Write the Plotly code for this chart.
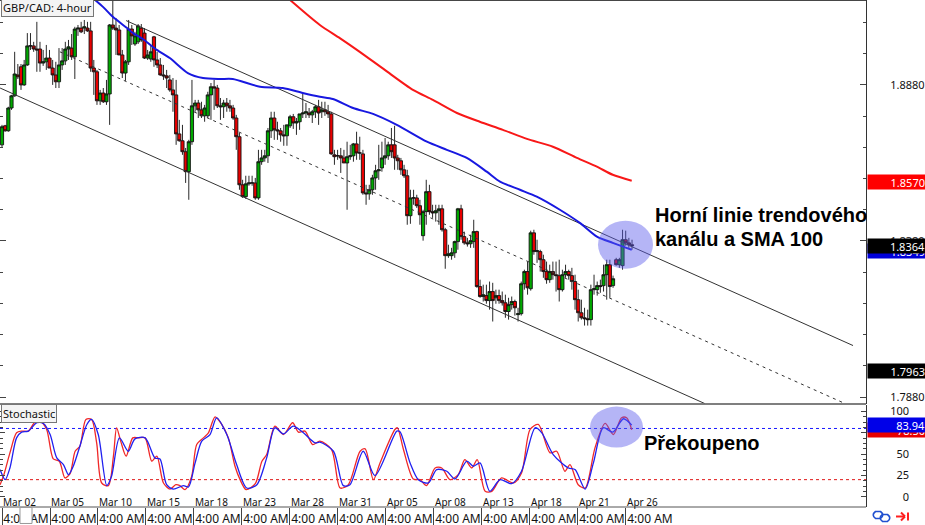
import plotly.graph_objects as go

open_vals = [
1.8688,1.8749,1.8733,1.8806,1.8845,1.8912,1.8938,1.8880,1.8944,1.9005,
1.9005,1.8995,1.8995,1.8950,1.8954,1.8966,1.8934,1.8912,1.8890,1.8944,
1.8957,1.8995,1.8998,1.8970,1.9059,1.9062,1.9062,1.9062,1.9053,1.8934,
1.8922,1.8829,1.8854,1.8826,1.8851,1.9072,1.9062,1.9056,1.8976,1.8918,
1.8954,1.9059,1.9011,1.9018,1.9062,1.9046,1.8966,1.8963,1.9034,1.8960,
1.8944,1.8912,1.8909,1.8896,1.8864,1.8848,1.8723,1.8701,1.8666,1.8602,
1.8698,1.8813,1.8822,1.8800,1.8781,1.8781,1.8848,1.8874,1.8870,1.8813,
1.8810,1.8822,1.8813,1.8806,1.8774,1.8714,1.8560,1.8522,1.8563,1.8566,
1.8566,1.8518,1.8634,1.8646,1.8653,1.8733,1.8774,1.8736,1.8733,1.8720,
1.8717,1.8749,1.8778,1.8758,1.8762,1.8787,1.8790,1.8790,1.8784,1.8794,
1.8810,1.8794,1.8800,1.8794,1.8787,1.8656,1.8653,1.8653,1.8646,1.8630,
1.8650,1.8653,1.8691,1.8662,1.8659,1.8534,1.8531,1.8544,1.8582,1.8605,
1.8614,1.8646,1.8653,1.8688,1.8688,1.8646,1.8637,1.8608,1.8589,1.8461,
1.8518,1.8518,1.8493,1.8397,1.8474,1.8538,1.8474,1.8470,1.8477,1.8483,
1.8416,1.8333,1.8333,1.8342,1.8378,1.8483,1.8394,1.8374,1.8371,1.8378,
1.8410,1.8234,1.8202,1.8205,1.8189,1.8218,1.8198,1.8205,1.8189,1.8182,
1.8154,1.8176,1.8186,1.8144,1.8147,1.8243,1.8282,1.8227,1.8406,1.8346,
1.8346,1.8320,1.8282,1.8256,1.8282,1.8272,1.8269,1.8224,1.8272,1.8282,
1.8269,1.8250,1.8192,1.8150,1.8134,1.8131,1.8128,1.8224,1.8224,1.8237,
1.8237,1.8272,1.8304,1.8237,1.8320,1.8304,1.8301,1.8384,1.8374,1.8368]
high_vals = [
1.8752,1.8752,1.8810,1.8848,1.8986,1.8947,1.8947,1.8960,1.9046,1.9046,
1.9018,1.9082,1.9018,1.8992,1.9008,1.8992,1.8960,1.8954,1.8998,1.8998,
1.9018,1.9024,1.9043,1.9066,1.9072,1.9082,1.9088,1.9082,1.9082,1.8960,
1.8928,1.8864,1.8870,1.8896,1.9075,1.9152,1.9094,1.9072,1.8992,1.8960,
1.9088,1.9072,1.9050,1.9075,1.9075,1.9062,1.8992,1.9008,1.9037,1.8986,
1.8966,1.8944,1.8928,1.8912,1.8902,1.8896,1.8768,1.8752,1.8678,1.8704,
1.8896,1.8832,1.8832,1.8826,1.8816,1.8858,1.8886,1.8896,1.8880,1.8838,
1.8832,1.8838,1.8832,1.8816,1.8784,1.8726,1.8576,1.8589,1.8589,1.8589,
1.8582,1.8672,1.8672,1.8672,1.8742,1.8794,1.8794,1.8762,1.8742,1.8752,
1.8752,1.8784,1.8787,1.8774,1.8787,1.8854,1.8822,1.8806,1.8800,1.8816,
1.8832,1.8826,1.8826,1.8816,1.8794,1.8672,1.8672,1.8678,1.8672,1.8698,
1.8688,1.8694,1.8730,1.8714,1.8672,1.8560,1.8560,1.8592,1.8624,1.8688,
1.8698,1.8710,1.8698,1.8742,1.8749,1.8656,1.8646,1.8624,1.8608,1.8544,
1.8544,1.8528,1.8512,1.8480,1.8576,1.8560,1.8496,1.8496,1.8496,1.8496,
1.8422,1.8368,1.8358,1.8381,1.8486,1.8496,1.8410,1.8390,1.8400,1.8448,
1.8413,1.8256,1.8240,1.8240,1.8250,1.8246,1.8224,1.8224,1.8218,1.8208,
1.8198,1.8202,1.8192,1.8166,1.8250,1.8288,1.8314,1.8413,1.8416,1.8384,
1.8352,1.8336,1.8314,1.8304,1.8314,1.8314,1.8320,1.8288,1.8304,1.8288,
1.8294,1.8272,1.8224,1.8192,1.8166,1.8160,1.8240,1.8272,1.8250,1.8256,
1.8304,1.8320,1.8320,1.8269,1.8326,1.8326,1.8416,1.8413,1.8390,1.8384]
low_vals = [
1.8678,1.8730,1.8730,1.8800,1.8842,1.8899,1.8864,1.8877,1.8941,1.8992,
1.8986,1.8922,1.8922,1.8941,1.8928,1.8934,1.8880,1.8870,1.8870,1.8928,
1.8944,1.8960,1.8960,1.8899,1.9037,1.9046,1.9043,1.9050,1.8922,1.8848,
1.8816,1.8816,1.8822,1.8816,1.8752,1.9056,1.8976,1.8976,1.8902,1.8893,
1.8944,1.9008,1.9005,1.9011,1.9018,1.8963,1.8960,1.8954,1.8938,1.8934,
1.8909,1.8896,1.8870,1.8858,1.8794,1.8688,1.8698,1.8656,1.8566,1.8512,
1.8688,1.8794,1.8774,1.8774,1.8762,1.8774,1.8768,1.8800,1.8806,1.8768,
1.8774,1.8794,1.8794,1.8768,1.8672,1.8544,1.8518,1.8515,1.8557,1.8557,
1.8512,1.8512,1.8624,1.8634,1.8630,1.8710,1.8704,1.8704,1.8698,1.8685,
1.8685,1.8742,1.8739,1.8720,1.8736,1.8774,1.8774,1.8774,1.8758,1.8774,
1.8752,1.8774,1.8781,1.8774,1.8656,1.8624,1.8640,1.8598,1.8630,1.8480,
1.8640,1.8634,1.8640,1.8640,1.8528,1.8496,1.8512,1.8528,1.8544,1.8576,
1.8602,1.8624,1.8640,1.8646,1.8608,1.8608,1.8592,1.8582,1.8432,1.8435,
1.8496,1.8486,1.8432,1.8381,1.8432,1.8464,1.8454,1.8442,1.8432,1.8410,
1.8291,1.8326,1.8320,1.8326,1.8352,1.8384,1.8368,1.8362,1.8358,1.8358,
1.8230,1.8198,1.8186,1.8179,1.8160,1.8122,1.8179,1.8179,1.8173,1.8134,
1.8128,1.8160,1.8141,1.8122,1.8141,1.8224,1.8208,1.8221,1.8336,1.8310,
1.8282,1.8262,1.8243,1.8246,1.8256,1.8218,1.8186,1.8218,1.8262,1.8256,
1.8224,1.8160,1.8122,1.8128,1.8109,1.8109,1.8109,1.8208,1.8205,1.8214,
1.8218,1.8192,1.8198,1.8230,1.8301,1.8294,1.8288,1.8365,1.8358,1.8352]
close_vals = [
1.8746,1.8733,1.8806,1.8845,1.8915,1.8906,1.8880,1.8944,1.9005,1.9005,
1.8995,1.8992,1.8950,1.8954,1.8966,1.8934,1.8912,1.8890,1.8944,1.8957,
1.8995,1.9002,1.8970,1.9059,1.9062,1.9050,1.9066,1.9053,1.8934,1.8922,
1.8829,1.8854,1.8826,1.8851,1.9072,1.9062,1.9056,1.8976,1.8918,1.8954,
1.9059,1.9037,1.9037,1.9069,1.9024,1.8966,1.8976,1.8986,1.8960,1.8944,
1.8912,1.8909,1.8902,1.8864,1.8848,1.8723,1.8701,1.8666,1.8602,1.8698,
1.8813,1.8822,1.8800,1.8781,1.8806,1.8848,1.8874,1.8870,1.8813,1.8810,
1.8822,1.8813,1.8806,1.8774,1.8714,1.8560,1.8522,1.8563,1.8566,1.8566,
1.8518,1.8634,1.8646,1.8653,1.8733,1.8774,1.8736,1.8733,1.8720,1.8717,
1.8752,1.8778,1.8758,1.8762,1.8787,1.8790,1.8794,1.8784,1.8794,1.8810,
1.8790,1.8800,1.8794,1.8787,1.8659,1.8650,1.8653,1.8646,1.8630,1.8650,
1.8653,1.8691,1.8662,1.8662,1.8534,1.8531,1.8544,1.8582,1.8605,1.8608,
1.8646,1.8653,1.8688,1.8666,1.8646,1.8637,1.8608,1.8589,1.8461,1.8518,
1.8518,1.8493,1.8464,1.8474,1.8538,1.8474,1.8470,1.8477,1.8483,1.8416,
1.8333,1.8339,1.8342,1.8378,1.8483,1.8394,1.8374,1.8371,1.8381,1.8410,
1.8234,1.8202,1.8208,1.8189,1.8218,1.8189,1.8205,1.8189,1.8182,1.8154,
1.8176,1.8186,1.8166,1.8147,1.8243,1.8282,1.8230,1.8406,1.8346,1.8349,
1.8320,1.8282,1.8256,1.8282,1.8272,1.8269,1.8224,1.8272,1.8282,1.8269,
1.8250,1.8192,1.8150,1.8134,1.8131,1.8128,1.8224,1.8227,1.8237,1.8234,
1.8272,1.8304,1.8234,1.8259,1.8304,1.8320,1.8384,1.8374,1.8368,1.8365]

sma100_idx = [29.4,31.9,35.0,39.5,41.4,44.5,48.9,53.0,58.7,63.5,68.8,72.9,81.5,88.7,95.0,100.4,104.5,110.9,117.2,124.7,134.2,140.5,146.8,153.1,157.3,163.6,168.9,176.2,182.5,187.9,192.9,198.9]
sma100_val = [1.9152,1.9130,1.9098,1.9062,1.9046,1.9027,1.8992,1.8966,1.8918,1.8902,1.8899,1.8899,1.8874,1.8870,1.8854,1.8842,1.8835,1.8806,1.8787,1.8752,1.8698,1.8672,1.8646,1.8602,1.8570,1.8544,1.8522,1.8480,1.8438,1.8394,1.8374,1.8352]
sma200_idx = [91.0,100.4,106.7,113.0,120.9,129.8,136.1,143.7,150.9,158.2,165.8,174.0,181.6,187.9,192.9,198.9]
sma200_val = [1.9152,1.9072,1.9030,1.8986,1.8928,1.8864,1.8832,1.8790,1.8762,1.8736,1.8707,1.8682,1.8646,1.8618,1.8592,1.8573]

channel_upper_idx = [39.2, 268.8]
channel_upper_val = [1.9086, 1.8045]
channel_mid_idx = [18.3, 266.3]
channel_mid_val = [1.8986, 1.7859]
channel_lower_idx = [-0.6, 222]
channel_lower_val = [1.8870, 1.7859]

stoch_k_idx = [-0.6,0.6,2.5,4.6,6.2,8.3,10.4,12,14.1,16.2,18.1,19.9,21.5,23.1,24.6,26.5,28.3,29.9,31.5,33.6,35.2,36.2,37.5,39.2,41.3,43.1,45.2,47.3,48.9,51,53.1,54.9,56.2,57.8,59.9,61.5,63.6,65.2,67.3,69.4,71.5,73.6,75.2,77.1,80,82.1,83.6,86.2,88.9,91.8,93.6,95.7,98.1,100.4,104.1,106.8,109.4,113.1,114.7,117.3,119.4,124.1,124.9,126.8,129.9,132,134.1,136.8,138.9,141.5,144.1,146.2,148.4,150.1,152.6,154.7,157.8,161.5,164.1,166.8,169.4,173.1,175.2,177.8,179.4,182,184.2,187.3,190.5,193.1,195.7,197.3,198.9]
stoch_k_val = [14.1,25.9,51.4,74.9,76.9,76.9,87.4,88.6,78.8,44.3,41.6,22,27.1,53.3,59.2,90.6,90.6,63.1,16.1,13,47.5,80.8,65.1,47.5,69,69,69,41.6,47.5,16.1,9,14.1,13,8.3,23.9,61.2,69,74.9,93.7,84.7,69,35.7,20,8.3,15.3,41.6,49.4,82.7,72.9,86.7,75.7,76.9,61.2,65.1,55.3,10.2,14.1,53.3,56.1,20,39.6,78.8,80.8,55.3,20.8,20,13,33.7,33.7,20,25.9,43.5,33.7,43.5,6.3,6.3,22,16.1,27.9,78.8,84.7,51.4,53.3,29.8,37.7,14.1,10.2,57.3,85.9,72.9,92.5,92.5,78.5]
stoch_d_idx = [-0.6,1,2.5,4.6,6.2,8.3,11,13.1,15.2,17.3,19.4,21,22.5,24.6,26.8,28.3,30.4,33.1,34.6,37.1,39.9,42,45.2,48.3,49.9,52,54.1,57.3,58.9,61,63.1,65.7,67.8,71,74.1,77.3,80.5,83.6,86.2,88.9,92,95.2,98.9,100.4,104.7,107.8,109.9,114.1,117.8,124.7,125.7,128.9,131.5,134.7,137.3,140.5,143.1,146.8,148.9,151,154.1,157.3,161,164.1,168.4,170.5,174.1,178.9,181,184.2,186.8,189.9,192.9,196.3,198.9]
stoch_d_val = [31.8,20,33.7,69,75.7,76.9,86.7,85.9,72.9,45.5,37.7,25.9,35.7,59.2,84.7,90.6,72.9,13,23.9,69,53.3,67.8,69,45.5,44.3,14.1,9,13,11.4,39.6,65.1,72.9,92.5,72.9,37.7,10.2,14.1,45.5,80.8,73.7,82.7,74.9,63.1,63.9,53.3,13,14.1,53.3,24.7,76.9,76.1,39.6,20,16.1,31.8,29.8,20.8,41.6,35.7,39.6,6.3,20,15.3,29.8,80.8,74.9,49.4,33.7,31.8,9,39.6,80.8,75.7,91.4,83.94]
stoch_levels = [80, 20]

tick_idx = [0,15.16,30.32,45.48,60.64,75.8,90.96,106.12,121.28,136.44,151.6,166.76,181.92,197.08]
date_labels = ["Mar 02","Mar 05","Mar 10","Mar 15","Mar 18","Mar 23","Mar 28","Mar 31","Apr 05","Apr 08","Apr 13","Apr 18","Apr 21","Apr 26"]
time_labels = ["4:00 AM"] * len(tick_idx)

price_ticks = [1.788,1.838,1.888]
price_minor = [1.798,1.808,1.818,1.828,1.848,1.858,1.868,1.878,1.898,1.908]
price_labels = ["1.7880","1.8380","1.8880"]
stoch_ticks = [0,25,50,75,100]
stoch_minor = [6.25,12.5,18.75,31.25,37.5,43.75,56.25,62.5,68.75,81.25,87.5,93.75]

W, H, PW, PH = 925, 525, 866, 507.5
FONT = "Noto Sans"
XR = [-0.632, 272.9]
px = lambda x: x / PW
py = lambda y: (PH - y) / PH

fig = go.Figure()
x_idx = list(range(len(open_vals)))
fig.add_trace(go.Candlestick(
    x=x_idx, open=open_vals, high=high_vals, low=low_vals, close=close_vals,
    increasing=dict(line=dict(color="#111", width=0.9), fillcolor="#00a800"),
    decreasing=dict(line=dict(color="#111", width=0.9), fillcolor="#e80000"),
    whiskerwidth=0, xaxis="x", yaxis="y", showlegend=False))
fig.add_trace(go.Scatter(x=channel_upper_idx, y=channel_upper_val, mode="lines", line=dict(color="#333", width=1), yaxis="y"))
fig.add_trace(go.Scatter(x=channel_mid_idx, y=channel_mid_val, mode="lines", line=dict(color="#333", width=1, dash="3px,4px"), yaxis="y"))
fig.add_trace(go.Scatter(x=channel_lower_idx, y=channel_lower_val, mode="lines", line=dict(color="#333", width=1), yaxis="y"))
fig.add_trace(go.Scatter(x=sma100_idx, y=sma100_val, mode="lines", line=dict(color="#1818e0", width=2, shape="spline", smoothing=0.7), yaxis="y"))
fig.add_trace(go.Scatter(x=sma200_idx, y=sma200_val, mode="lines", line=dict(color="#f81818", width=2, shape="spline", smoothing=0.7), yaxis="y"))
for level, col in zip(stoch_levels, ["#1818ff", "#e01818"]):
    fig.add_trace(go.Scatter(x=XR, y=[level, level], mode="lines", line=dict(color=col, width=1, dash="3px,3px"), yaxis="y2"))
fig.add_trace(go.Scatter(x=stoch_k_idx, y=stoch_k_val, mode="lines", line=dict(color="#f02828", width=1.3, shape="spline", smoothing=0.8), yaxis="y2"))
fig.add_trace(go.Scatter(x=stoch_d_idx, y=stoch_d_val, mode="lines", line=dict(color="#2020f0", width=1.3, shape="spline", smoothing=0.8), yaxis="y2"))

ann = []
def box(text, y, yref, bg, fg="white", h=14):
    ann.append(dict(text=text, x=1, xref="paper", xanchor="left", xshift=1, y=y, yref=yref, yanchor="middle",
                    width=57, height=h, align="right", valign="middle", bgcolor=bg, borderpad=0, showarrow=False,
                    font=dict(family=FONT, size=11, color=fg)))
box("1.8570", 1.8570, "y", "#ff0000")
box("1.8349", 1.8349, "y", "#0000d8")
box("1.8364", 1.8364, "y", "#000000")
box("1.7963", 1.7963, "y", "#000000")
box("78.50", 78.5, "y2", "#e80000")
box("83.94", 83.94, "y2", "#0000e8")
for i, d in zip(tick_idx, date_labels):
    ann.append(dict(text=d, x=i, xref="x", xanchor="left", xshift=-1, y=py(502), yref="paper", yanchor="middle",
                    showarrow=False, font=dict(family=FONT, size=10, color="#111")))
def tag(text, x, y):
    ann.append(dict(text=text, x=px(x), xref="paper", xanchor="left", y=py(y), yref="paper", yanchor="middle",
                    showarrow=False, bgcolor="#f4f4f4", bordercolor="#777", borderwidth=1, borderpad=1,
                    font=dict(family=FONT, size=11, color="#111")))
tag("GBP/CAD: 4-hour", 1, 8)
tag("Stochastic", 1, 414)
def note(text, x, y):
    ann.append(dict(text=f"<b>{text}</b>", x=px(x), xref="paper", xanchor="left", y=py(y), yref="paper", yanchor="middle",
                    showarrow=False, font=dict(family="Liberation Sans", size=20, color="#000")))
note("Horní linie trendového", 653, 215)
note("kanálu a SMA 100", 653, 239)
note("Překoupeno", 642, 443)

def ell(x0, y0, x1, y1):
    return dict(type="circle", xref="paper", yref="paper", x0=px(x0), x1=px(x1), y0=py(y0), y1=py(y1),
                fillcolor="rgba(90,90,235,0.45)", line=dict(width=0), layer="above")
def seg(x0, y0, x1, y1, color="#444", w=1):
    return dict(type="line", xref="paper", yref="paper", x0=px(x0), x1=px(x1), y0=py(y0), y1=py(y1),
                line=dict(color=color, width=w), layer="above")
def pill(x0, y0, x1, y1, color):
    r = (y1 - y0) / 2
    p = lambda x, y: f"{px(x):.5f},{py(y):.5f}"
    path = (f"M{p(x0 + r, y0)} L{p(x1 - r, y0)} Q{p(x1 + r * 0.3, y0 + r)} {p(x1 - r, y1)} "
            f"L{p(x0 + r, y1)} Q{p(x0 - r * 0.3, y0 + r)} {p(x0 + r, y0)} Z")
    return dict(type="path", xref="paper", yref="paper", path=path, line=dict(color=color, width=1.6), layer="above")
shapes = [
    ell(598, 221, 653, 269), ell(590, 407, 643, 448),
    seg(0, 0.5, 866, 0.5), seg(0, 404.5, 866, 404.5, "#555", 1.5), seg(0, 507.5, 866, 507.5, "#555", 1),
    dict(type="rect", xref="paper", yref="paper", x0=px(20), x1=px(32), y0=py(508), y1=py(524),
         fillcolor="#ffffff", line=dict(color="#999", width=1), layer="above"),
    pill(872, 512, 884, 519, "#2050d0"), pill(879, 515, 891, 522, "#2050d0"),
    seg(896, 517, 905, 517, "#ff2020", 2), seg(901, 513, 905, 517, "#ff2020", 2), seg(901, 521, 905, 517, "#ff2020", 2),
    seg(908, 513, 908, 521, "#ff2020", 2),
]

axis_font = dict(family=FONT, size=11, color="#111")
fig.update_layout(
    width=W, height=H, autosize=False,
    margin=dict(l=0, r=W - PW, t=0, b=H - PH, pad=0),
    paper_bgcolor="white", plot_bgcolor="white", showlegend=False, boxgap=0, boxgroupgap=0,
    xaxis=dict(domain=[0, 1], range=XR, anchor="y2", rangeslider=dict(visible=False), showgrid=False, zeroline=False,
               automargin=False,
               tickmode="array", tickvals=tick_idx, ticktext=time_labels, ticks="outside", ticklen=17, tickwidth=1,
               tickcolor="#444", ticklabelshift=24, ticklabelstandoff=-16,
               tickfont=dict(family=FONT, size=12, color="#111")),
    yaxis=dict(domain=[(PH - 404) / PH, 1], range=[1.7859, 1.9152], side="right", anchor="x", showgrid=False, zeroline=False,
               automargin=False, showline=True, linecolor="#333", linewidth=1, mirror="ticks",
               tickmode="array", tickvals=price_ticks, ticktext=price_labels, ticks="inside", ticklen=6, tickcolor="#444",
               tickfont=axis_font, ticklabelstandoff=21,
               minor=dict(tickmode="array", tickvals=price_minor, ticks="inside", ticklen=3, tickcolor="#444")),
    yaxis2=dict(domain=[0, (PH - 405.5) / PH], range=[-12.06, 107.4], side="right", anchor="x", showgrid=False, zeroline=False,
                automargin=False, showline=True, linecolor="#333", linewidth=1, mirror="ticks",
                tickmode="array", tickvals=stoch_ticks, ticktext=["\u2007\u20070", "\u200725", "\u200750", "\u200775", "100"],
                ticks="inside", ticklen=5, tickcolor="#444", tickfont=axis_font, ticklabelstandoff=21,
                minor=dict(tickmode="array", tickvals=stoch_minor, ticks="inside", ticklen=3, tickcolor="#444")),
    annotations=ann, shapes=shapes,
)
fig.write_html("out.html", config={"displayModeBar": False},
               post_script="document.body.style.margin='0';document.body.style.overflow='hidden';")
